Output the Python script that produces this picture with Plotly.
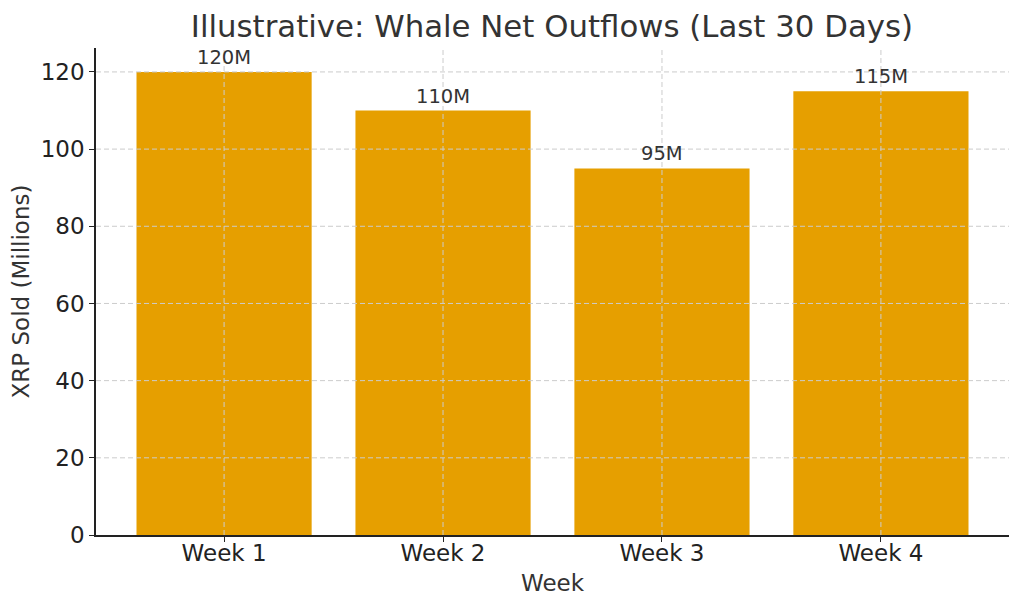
import plotly.graph_objects as go

weeks = ["Week 1", "Week 2", "Week 3", "Week 4"]
xrp_sold = [120, 110, 95, 115]
bar_labels = ["120M", "110M", "95M", "115M"]
y_ticks = [0, 20, 40, 60, 80, 100, 120]

FONT = "DejaVu Sans"
BAR = "#E69F00"
GRID = "#cccccc"

fig = go.Figure()
fig.add_trace(go.Bar(x=weeks, y=xrp_sold, marker=dict(color=BAR, line=dict(width=0)),
                     width=0.8, hoverinfo="x+y"))

annotations = []
for w, v, lab in zip(weeks, xrp_sold, bar_labels):
    annotations.append(dict(x=w, y=v, text=lab, showarrow=False, xanchor="center",
                            yanchor="bottom", yshift=1,
                            font=dict(family=FONT, size=19.5, color="#333333")))

shapes = []
for t in y_ticks[1:]:
    shapes.append(dict(type="line", xref="paper", x0=0, x1=1, yref="y", y0=t, y1=t,
                       line=dict(color=GRID, width=1, dash="5px,3px"), layer="above"))
for w in weeks:
    shapes.append(dict(type="line", xref="x", x0=w, x1=w, yref="paper", y0=0, y1=1,
                       line=dict(color=GRID, width=1, dash="5px,3px"), layer="above"))

fig.update_layout(
    width=1016, height=601,
    margin=dict(l=88, r=15, t=40, b=74),
    paper_bgcolor="white", plot_bgcolor="white",
    showlegend=False, bargap=0.2,
    title=dict(text="Illustrative: Whale Net Outflows (Last 30 Days)", x=0.5354, xanchor="center",
               y=0.970, yanchor="middle",
               font=dict(family=FONT, size=30.8, color="#333333")),
    xaxis=dict(type="category", range=[-0.585, 3.585], showgrid=False, automargin=False,
               showline=True, linecolor="#222222", linewidth=1.5,
               ticks="outside", ticklen=5, tickwidth=1.2, tickcolor="#222222",
               ticklabelstandoff=-8,
               tickfont=dict(family=FONT, size=23, color="#222222"),
               title=dict(text="Week", font=dict(family=FONT, size=23, color="#333333"), standoff=10)),
    yaxis=dict(range=[0, 126.2], tickvals=y_ticks, showgrid=False, zeroline=False, automargin=False,
               showline=True, linecolor="#222222", linewidth=1.5,
               ticks="outside", ticklen=5, tickwidth=1.2, tickcolor="#222222",
               tickfont=dict(family=FONT, size=23, color="#222222"),
               title=dict(text="XRP Sold (Millions)", font=dict(family=FONT, size=23, color="#333333"), standoff=7)),
    annotations=annotations, shapes=shapes,
)

fig.write_html("out.html")
